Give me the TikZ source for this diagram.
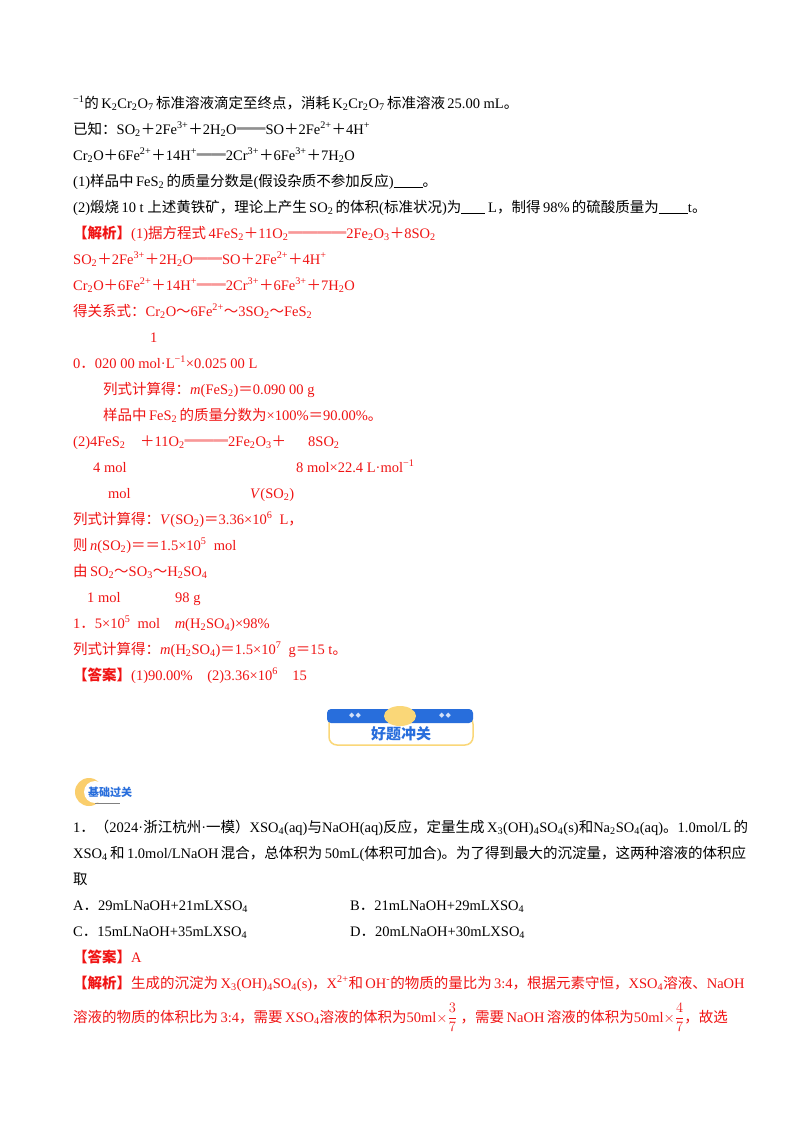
\documentclass[tikz,border=0pt]{standalone}
\usepackage{fontspec}
\setmainfont{Liberation Serif}
\newfontfamily\cjk{Noto Sans CJK SC}
\newfontfamily\dejavu{DejaVu Sans}
\newcommand\zh[1]{{\cjk #1}}
\newcommand\zb[1]{{\cjk\bfseries #1}}
\newcommand\sbb[1]{\textsubscript{#1}}
\newcommand\ssp[1]{\textsuperscript{#1}}
\newcommand\blank[1]{\underline{\hspace{#1}}}
\definecolor{jred}{RGB}{240,20,20}
\definecolor{jblue}{RGB}{40,110,220}
\definecolor{jyel}{RGB}{250,215,120}
\begin{document}
\begin{tikzpicture}[x=1pt,y=-1pt,
  ln/.style={anchor=base west,inner sep=0pt,font=\fontsize{14.5}{17}\selectfont},
  rl/.style={ln,text=jred}]
\useasboundingbox[fill=white] (0,0) rectangle (800,1132);
\node[ln] (l1) at (73,108) {\ssp{−1}\zh{的}\,K\sbb2Cr\sbb2O\sbb7\,\zh{标准溶液滴定至终点，消耗}\,K\sbb2Cr\sbb2O\sbb7\,\zh{标准溶液}\,25.00 mL\zh{。}};
\node[ln] (l2) at (73,134) {\zh{已知：}SO\sbb2\zh{＋}2Fe\ssp{3+}\zh{＋}2H\sbb2O\zh{══}SO\zh{＋}2Fe\ssp{2+}\zh{＋}4H\ssp{+}};
\node[ln] (l3) at (73,160) {Cr\sbb2O\zh{＋}6Fe\ssp{2+}\zh{＋}14H\ssp{+}\zh{══}2Cr\ssp{3+}\zh{＋}6Fe\ssp{3+}\zh{＋}7H\sbb2O};
\node[ln] (l4) at (73,186) {(1)\zh{样品中}\,FeS\sbb2\,\zh{的质量分数是}(\zh{假设杂质不参加反应})\blank{2em}\zh{。}};
\node[ln] (l5) at (73,212) {(2)\zh{煅烧}\,10 t \zh{上述黄铁矿，理论上产生}\,SO\sbb2\,\zh{的体积}(\zh{标准状况})\zh{为}\blank{1.6em}\ L\zh{，制得}\,98\%\,\zh{的硫酸质量为}\blank{2em}t\zh{。}};
\node[rl] (l6) at (73,238) {\zb{【解析】}(1)\zh{据方程式}\,4FeS\sbb2\zh{＋}11O\sbb2\zh{════}2Fe\sbb2O\sbb3\zh{＋}8SO\sbb2};
\node[rl] (l7) at (73,264) {SO\sbb2\zh{＋}2Fe\ssp{3+}\zh{＋}2H\sbb2O\zh{══}SO\zh{＋}2Fe\ssp{2+}\zh{＋}4H\ssp{+}};
\node[rl] (l8) at (73,290) {Cr\sbb2O\zh{＋}6Fe\ssp{2+}\zh{＋}14H\ssp{+}\zh{══}2Cr\ssp{3+}\zh{＋}6Fe\ssp{3+}\zh{＋}7H\sbb2O};
\node[rl] (l9) at (73,316) {\zh{得关系式：}Cr\sbb2O\zh{～}6Fe\ssp{2+}\zh{～}3SO\sbb2\zh{～}FeS\sbb2};
\node[rl] (l10) at (150,342) {1};
\node[rl] (l11) at (73,368) {0\zh{．}020 00 mol·L\ssp{−1}×0.025 00 L};
\node[rl] (l12) at (103,394) {\zh{列式计算得：}\textit{m}(FeS\sbb2)\zh{＝}0.090 00 g};
\node[rl] (l13) at (103,420) {\zh{样品中}\,FeS\sbb2\,\zh{的质量分数为}×100\%\zh{＝}90.00\%\zh{。}};
\node[rl] (l14) at (73,446) {(2)4FeS\sbb2};
\node[rl] (l14b) at (140,446) {\zh{＋}11O\sbb2\zh{═══}2Fe\sbb2O\sbb3\zh{＋}};
\node[rl] (l14c) at (308,446) {8SO\sbb2};
\node[rl] (l15) at (93,472) {4 mol};
\node[rl] (l15b) at (296,472) {8 mol×22.4 L·mol\ssp{−1}};
\node[rl] (l16) at (108,498) {mol};
\node[rl] (l16b) at (250,498) {\textit{V}(SO\sbb2)};
\node[rl] (l17) at (73,524) {\zh{列式计算得：}\textit{V}(SO\sbb2)\zh{＝}3.36×10\ssp6\ \ L\zh{，}};
\node[rl] (l18) at (73,550) {\zh{则}\,\textit{n}(SO\sbb2)\zh{＝＝}1.5×10\ssp5\ \ mol};
\node[rl] (l19) at (73,576) {\zh{由}\,SO\sbb2\zh{～}SO\sbb3\zh{～}H\sbb2SO\sbb4};
\node[rl] (l20) at (87,602) {1 mol};
\node[rl] (l20b) at (175,602) {98 g};
\node[rl] (l21) at (73,628) {1\zh{．}5×10\ssp5\ \ mol\quad\textit{m}(H\sbb2SO\sbb4)×98\%};
\node[rl] (l22) at (73,654) {\zh{列式计算得：}\textit{m}(H\sbb2SO\sbb4)\zh{＝}1.5×10\ssp7\ \ g\zh{＝}15 t\zh{。}};
\node[rl] (l23) at (73,680) {\zb{【答案】}(1)90.00\%\quad(2)3.36×10\ssp6\quad 15};
% banner
\draw[jyel,line width=1.5pt,fill=white,rounded corners=8pt] (329,716) rectangle (473,745);
\fill[jblue,rounded corners=4pt] (327,709) rectangle (473,723);
\fill[jyel] (400,716) ellipse (16 and 10);
\node[text=white!80!jblue,font=\dejavu\fontsize{7}{7}\selectfont,inner sep=0pt] (bl) at (355,716) {◆\,◆};
\node[text=white!80!jblue,font=\dejavu\fontsize{7}{7}\selectfont,inner sep=0pt] (br) at (445,716) {◆\,◆};
\node[text=jblue,font=\cjk\bfseries\fontsize{15}{15}\selectfont,inner sep=0pt] (bt) at (401,734) {好题冲关};
% logo
\fill[jyel!90!orange] (89,792) circle (14);
\fill[white] (95,792) circle (11);
\node[text=jblue,font=\cjk\bfseries\fontsize{11}{11}\selectfont,inner sep=0pt] (lg) at (110,792) {基础过关};
\draw[gray] (95,803) -- (120,803);
\node[ln] (q1) at (73,832) {1\zh{．（}2024·\zh{浙江杭州}·\zh{一模）}XSO\sbb4(aq)\zh{与}NaOH(aq)\zh{反应，定量生成}\,X\sbb3(OH)\sbb4SO\sbb4(s)\zh{和}Na\sbb2SO\sbb4(aq)\zh{。}1.0mol/L\,\zh{的}};
\node[ln] (q2) at (73,858) {XSO\sbb4\,\zh{和}\,1.0mol/LNaOH\,\zh{混合，总体积为}\,50mL(\zh{体积可加合})\zh{。为了得到最大的沉淀量，这两种溶液的体积应}};
\node[ln] (q3) at (73,884) {\zh{取}};
\node[ln] (qa) at (73,910) {A\zh{．}29mLNaOH+21mLXSO\sbb4};
\node[ln] (qb) at (350,910) {B\zh{．}21mLNaOH+29mLXSO\sbb4};
\node[ln] (qc) at (73,936) {C\zh{．}15mLNaOH+35mLXSO\sbb4};
\node[ln] (qd) at (350,936) {D\zh{．}20mLNaOH+30mLXSO\sbb4};
\node[rl] (qans) at (73,962) {\zb{【答案】}A};
\node[rl] (qj1) at (73,988) {\zb{【解析】}\zh{生成的沉淀为}\,X\sbb3(OH)\sbb4SO\sbb4(s)\zh{，}X\ssp{2+}\zh{和}\,OH\ssp{-}\zh{的物质的量比为}\,3:4\zh{，根据元素守恒，}XSO\sbb4\zh{溶液、}NaOH};
\node[rl] (qj2) at (73,1022) {\zh{溶液的物质的体积比为}\,3:4\zh{，需要}\,XSO\sbb4\zh{溶液的体积为}$\displaystyle\mathrm{50ml}{\times}\frac{3}{7}$\ \zh{，需要}\,NaOH\,\zh{溶液的体积为}$\displaystyle\mathrm{50ml}{\times}\frac{4}{7}$\zh{，故选}};
\end{tikzpicture}
\end{document}
